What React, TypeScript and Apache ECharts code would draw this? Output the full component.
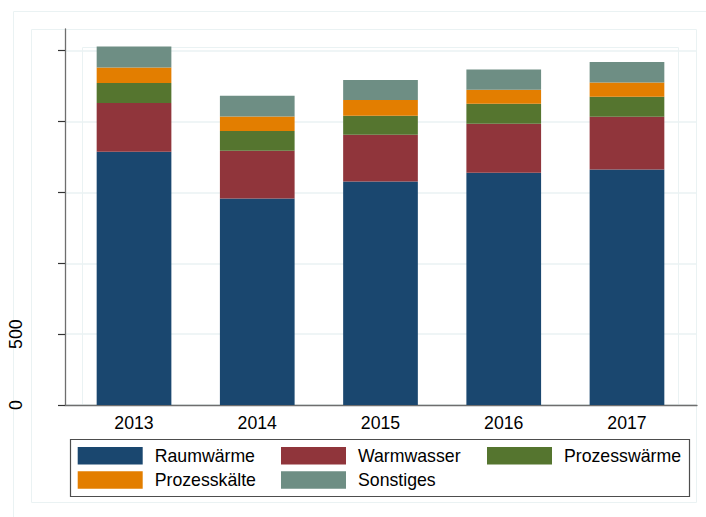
import React, { useEffect, useRef } from "react";
import * as echarts from "echarts";

const years = ["2013", "2014", "2015", "2016", "2017"];
const raumwaerme = [1787, 1457, 1577, 1638, 1662];
const warmwasser = [344, 337, 330, 346, 372];
const prozesswaerme = [141, 139, 134, 141, 141];
const prozesskaelte = [110, 103, 111, 99, 101];
const sonstiges = [148, 146, 141, 143, 144];

const seriesNames = ["Raumwärme", "Warmwasser", "Prozesswärme", "Prozesskälte", "Sonstiges"];
const seriesData = [raumwaerme, warmwasser, prozesswaerme, prozesskaelte, sonstiges];
const colors = ["#1a476f", "#90353b", "#55752f", "#e37e00", "#6e8e84"];
const yTicks = [0, 500, 1000, 1500, 2000, 2500];
const yLabels = [0, 500];

const FONT = "'Liberation Sans', Arial, sans-serif";
const FS = 17.7;
const YMAX = 2653;

// legend item placement (swatch left/top)
const legendPos = [
  [77.7, 446.7],
  [281, 446.7],
  [487, 446.7],
  [77.7, 471],
  [281, 471],
];

export default function App() {
  const ref = useRef<HTMLDivElement>(null);
  useEffect(() => {
    if (!ref.current) return;
    const chart = echarts.init(ref.current, null, { renderer: "svg" });
    const option: any = {
      animation: false,
      backgroundColor: "#ffffff",
      graphic: [
        { type: "rect", z: 0, shape: { x: 13.5, y: 11.5, width: 800, height: 600 }, style: { fill: "none", stroke: "#eaf2f3", lineWidth: 1 } },
        { type: "rect", z: 0, shape: { x: 31.5, y: 29.5, width: 665, height: 473 }, style: { fill: "none", stroke: "#eaf2f3", lineWidth: 1 } },
        { type: "rect", z: 0, shape: { x: 82.5, y: 47.5, width: 596, height: 357.5 }, style: { fill: "none", stroke: "#eaf2f3", lineWidth: 1 } },
        { type: "rect", z: 0, shape: { x: 70.5, y: 439.5, width: 619, height: 57 }, style: { fill: "#ffffff", stroke: "#4d4d4d", lineWidth: 1.2 } },
      ],
      grid: [
        { left: 72.4, right: 17.4, top: 29, bottom: 112, containLabel: false },
        { left: 65, right: 9, top: 29, bottom: 112, containLabel: false },
      ],
      xAxis: [
        {
          type: "category",
          gridIndex: 0,
          data: years,
          axisLine: { show: false },
          axisTick: { show: false },
          axisLabel: { color: "#000", fontSize: FS, fontFamily: FONT, margin: 9 },
        },
        {
          type: "value",
          gridIndex: 1,
          min: 0,
          max: 1,
          axisLine: { show: true, onZero: false, lineStyle: { color: "#6e6e6e", width: 1.3 } },
          axisTick: { show: false },
          axisLabel: { show: false },
          splitLine: { show: false },
        },
      ],
      yAxis: [
        {
          type: "value",
          gridIndex: 0,
          min: 0,
          max: YMAX,
          show: false,
          splitLine: { show: false },
        },
        {
          type: "value",
          gridIndex: 1,
          min: 0,
          max: YMAX,
          interval: 500,
          axisLine: { show: true, onZero: false, lineStyle: { color: "#6e6e6e", width: 1.3 } },
          axisTick: { show: true, length: 7, customValues: yTicks, lineStyle: { color: "#333", width: 1.2 } },
          axisLabel: {
            customValues: yLabels,
            rotate: 90,
            margin: 40,
            color: "#000",
            fontSize: FS,
            fontFamily: FONT,
          },
          splitLine: { show: true, lineStyle: { color: "#eaf2f3", width: 1.5 } },
        },
      ],
      legend: seriesNames.map((n, i) => ({
        data: [n],
        left: legendPos[i][0],
        top: legendPos[i][1],
        padding: 0,
        itemGap: 0,
        itemWidth: 65,
        itemHeight: 17.6,
        icon: "rect",
        selectedMode: false,
        textStyle: { color: "#000", fontSize: FS, fontFamily: FONT, lineHeight: 17.6, padding: [0, 0, 0, 7] },
      })),
      series: seriesNames.map((n, i) => ({
        name: n,
        type: "bar",
        stack: "total",
        xAxisIndex: 0,
        yAxisIndex: 0,
        barWidth: 74.7,
        data: seriesData[i],
        itemStyle: { color: colors[i] },
      })),
    };
    chart.setOption(option);
    return () => chart.dispose();
  }, []);
  return (
    <div
      ref={ref}
      style={{ position: "fixed", left: 0, top: 0, width: 706, height: 517, background: "#fff" }}
    />
  );
}
